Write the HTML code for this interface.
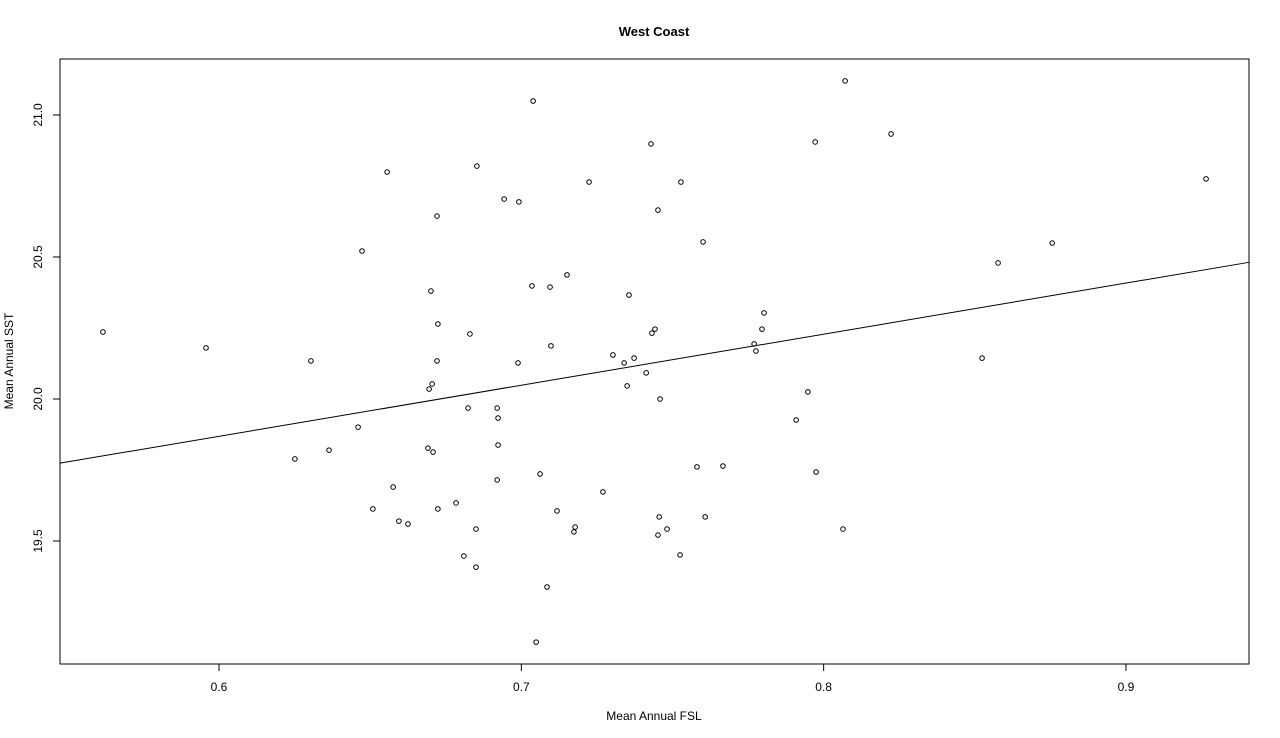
<!DOCTYPE html>
<html><head><meta charset="utf-8"><style>
html,body{margin:0;padding:0;background:#fff;}
svg{display:block;font-family:"Liberation Sans",Arial,sans-serif;}
</style></head><body>
<svg id="chart" width="1280" height="738" viewBox="0 0 1280 738">
<rect width="1280" height="738" fill="#fff"/>
<text x="654" y="36" text-anchor="middle" font-size="13" font-weight="bold">West Coast</text>
<rect x="60" y="59" width="1189" height="605" fill="none" stroke="#000" stroke-width="1"/>
<text x="654" y="720" text-anchor="middle" font-size="12">Mean Annual FSL</text>
<text transform="translate(13,361) rotate(-90)" text-anchor="middle" font-size="12">Mean Annual SST</text>
<g id="xaxis"></g>
<g id="yaxis"></g>
<g id="marks"></g>
</svg>
<script>
const xTicks = [0.6, 0.7, 0.8, 0.9];
const xTickLabels = ["0.6", "0.7", "0.8", "0.9"];
const yTicks = [19.5, 20.0, 20.5, 21.0];
const yTickLabels = ["19.5", "20.0", "20.5", "21.0"];
const fslValues = [0.5616,0.5957,0.6304,0.6251,0.6364,0.6460,0.6473,0.6556,0.6509,0.6576,0.6595,0.6625,0.6701,0.6721,0.6724,0.6721,0.6695,0.6705,0.6691,0.6708,0.6724,0.6784,0.6810,0.6850,0.6850,0.6824,0.6830,0.6853,0.6920,0.6923,0.6923,0.6920,0.6943,0.6992,0.6989,0.7039,0.7035,0.7095,0.7098,0.7062,0.7118,0.7151,0.7178,0.7174,0.7085,0.7049,0.7224,0.7270,0.7303,0.7340,0.7356,0.7350,0.7373,0.7413,0.7429,0.7432,0.7442,0.7452,0.7459,0.7456,0.7452,0.7482,0.7528,0.7525,0.7601,0.7608,0.7581,0.7667,0.7770,0.7776,0.7796,0.7803,0.7909,0.7948,0.7975,0.7972,0.8064,0.8071,0.8223,0.8524,0.8577,0.8756,0.9265];
const sstValues = [20.236,20.180,20.134,19.789,19.820,19.901,20.521,20.799,19.613,19.690,19.570,19.560,20.380,20.644,20.264,20.134,20.035,20.053,19.827,19.813,19.613,19.634,19.447,19.408,19.542,19.968,20.229,20.820,19.968,19.933,19.838,19.715,20.704,20.694,20.127,21.049,20.398,20.394,20.187,19.736,19.606,20.437,19.549,19.532,19.338,19.144,20.764,19.673,20.155,20.127,20.366,20.046,20.144,20.092,20.898,20.232,20.246,20.665,20.000,19.585,19.521,19.542,20.764,19.451,20.553,19.585,19.761,19.764,20.194,20.169,20.246,20.303,19.926,20.025,19.743,20.905,19.542,21.120,20.933,20.144,20.479,20.549,20.775];

const NS = "http://www.w3.org/2000/svg";
const X0 = 60, X1 = 1249, Y0 = 664, Y1 = 59;
const xMin = 0.5474, xMax = 0.9407, yMin = 19.067, yMax = 21.197;
function sx(v){ return X0 + (v - xMin) / (xMax - xMin) * (X1 - X0); }
function sy(v){ return Y0 - (v - yMin) / (yMax - yMin) * (Y0 - Y1); }
function mk(tag, attrs, parent){ const e = document.createElementNS(NS, tag); for (const k in attrs) e.setAttribute(k, attrs[k]); parent.appendChild(e); return e; }

const xa = document.getElementById('xaxis');
mk('line', {x1: sx(xTicks[0]), x2: sx(xTicks[xTicks.length-1]), y1: Y0, y2: Y0, stroke: '#000'}, xa);
xTicks.forEach((t, i) => {
  const tk = mk('line', {x1: sx(t), x2: sx(t), y1: Y0, y2: Y0 + 7, stroke: '#000'}, xa);
  
  
  const lb = mk('text', {x: sx(t), y: Y0 + 27, 'text-anchor': 'middle', 'font-size': 12}, xa);
  lb.textContent = xTickLabels[i];
  
  
});
const ya = document.getElementById('yaxis');
yTicks.forEach((t, i) => {
  const tk = mk('line', {x1: X0 - 7, x2: X0, y1: sy(t), y2: sy(t), stroke: '#000'}, ya);
  
  
  const lb = mk('text', {transform: `translate(42,${sy(t)}) rotate(-90)`, 'text-anchor': 'middle', 'font-size': 12}, ya);
  lb.textContent = yTickLabels[i];
  
  
});

const g = document.getElementById('marks');
// regression line
const n = fslValues.length;
let mx = 0, my = 0;
for (let i = 0; i < n; i++){ mx += fslValues[i]; my += sstValues[i]; }
mx /= n; my /= n;
let sxy = 0, sxx = 0;
for (let i = 0; i < n; i++){ sxy += (fslValues[i]-mx)*(sstValues[i]-my); sxx += (fslValues[i]-mx)**2; }
const b = sxy / sxx, a = my - b * mx;
const rl = mk('line', {x1: X0, y1: sy(a + b * xMin), x2: X1, y2: sy(a + b * xMax), stroke: '#000', 'stroke-width': 1}, g);


for (let i = 0; i < n; i++){
  const c = mk('circle', {cx: sx(fslValues[i]), cy: sy(sstValues[i]), r: 2.3, fill: 'none', stroke: '#000', 'stroke-width': 1}, g);
  
  
}
</script>
</body></html>
